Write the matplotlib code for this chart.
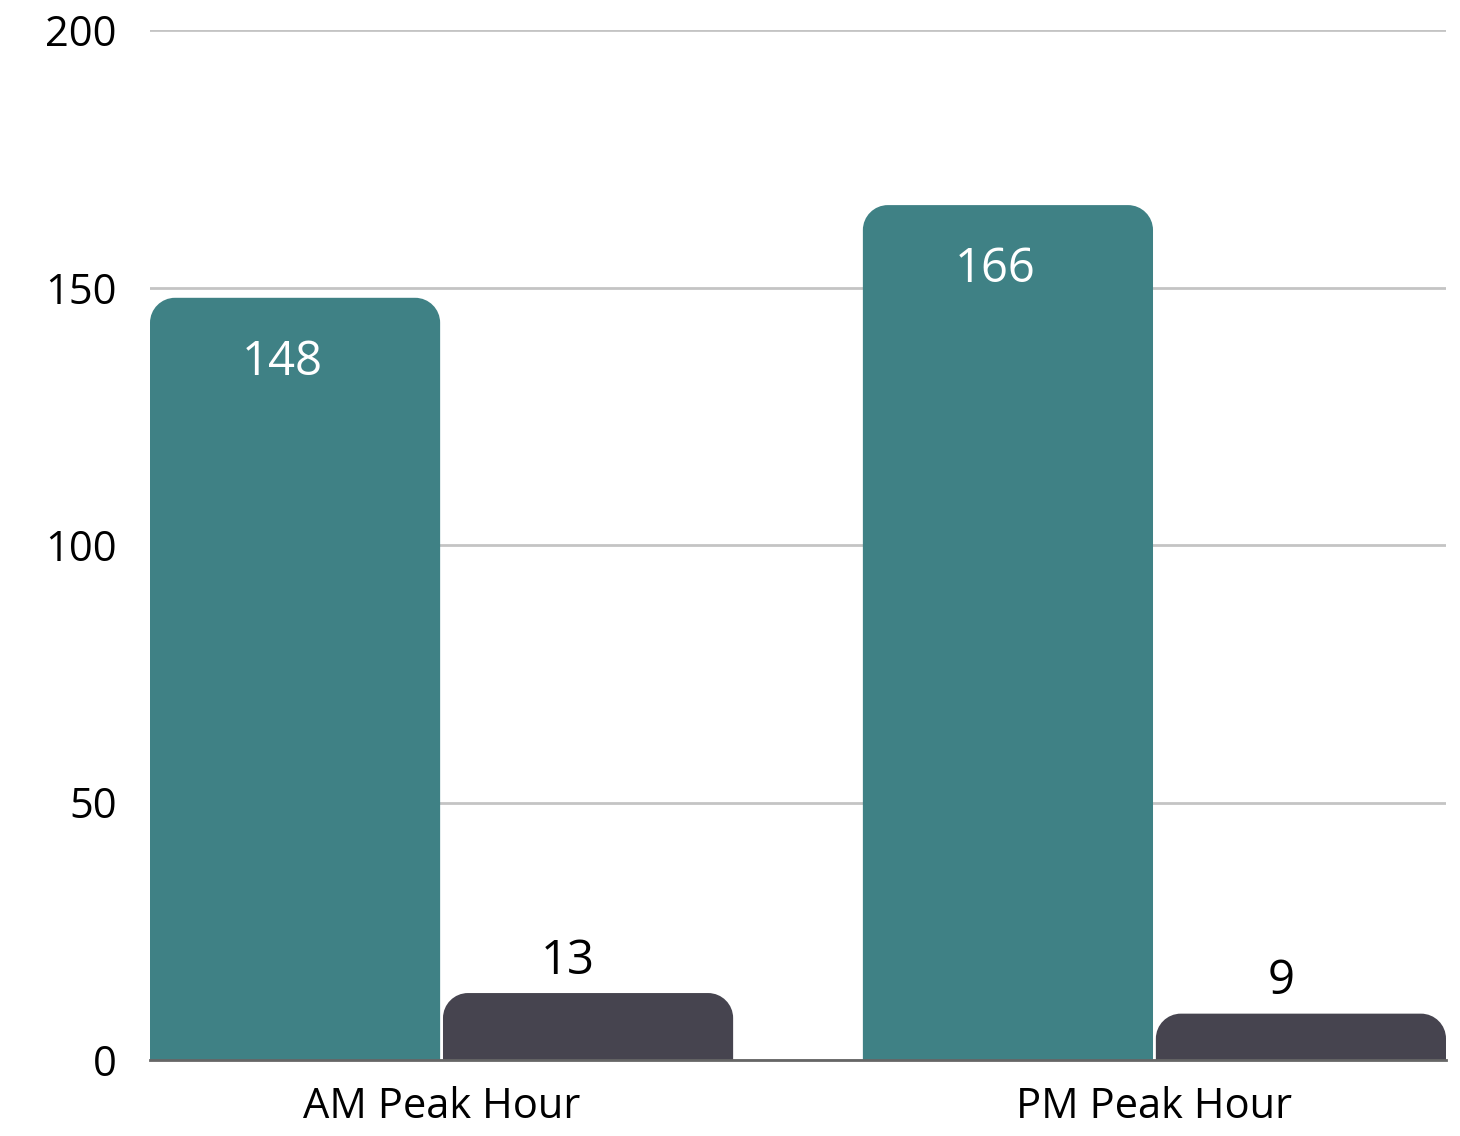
import numpy as np
import matplotlib.pyplot as plt
from matplotlib.path import Path
from matplotlib.patches import PathPatch

plt.rcParams['font.family'] = ['Open Sans', 'DejaVu Sans']

categories = ['AM Peak Hour', 'PM Peak Hour']
series_a = [148, 166]
series_b = [13, 9]
yticks = [0, 50, 100, 150, 200]

teal = '#3f8185'
dark = '#46444f'

fig = plt.figure(figsize=(14.6, 11.36), dpi=100)
ax = fig.add_axes([150/1460, 76/1136, 1296/1460, 1030/1136])

x = np.arange(len(categories))
w = 0.407
gap = 0.004
ax.set_xlim(-0.409, 1.409)
ax.set_ylim(0, 200)


def rounded_bar(ax, x0, width, height, color, r_px=25):
    # top corners rounded with a fixed pixel radius
    bb = ax.get_window_extent()
    sx = (ax.get_xlim()[1] - ax.get_xlim()[0]) / bb.width
    sy = (ax.get_ylim()[1] - ax.get_ylim()[0]) / bb.height
    rx, ry = r_px * sx, min(r_px * sy, height)
    k = 0.5523
    x1 = x0 + width
    verts = [(x0, 0), (x0, height - ry),
             (x0, height - ry + k * ry), (x0 + rx - k * rx, height), (x0 + rx, height),
             (x1 - rx, height),
             (x1 - rx + k * rx, height), (x1, height - ry + k * ry), (x1, height - ry),
             (x1, 0), (x0, 0)]
    codes = [Path.MOVETO, Path.LINETO,
             Path.CURVE4, Path.CURVE4, Path.CURVE4,
             Path.LINETO,
             Path.CURVE4, Path.CURVE4, Path.CURVE4,
             Path.LINETO, Path.CLOSEPOLY]
    ax.add_patch(PathPatch(Path(verts, codes), facecolor=color, edgecolor='none', zorder=3))


for i in range(len(categories)):
    rounded_bar(ax, x[i] - w - gap / 2, w, series_a[i], teal)
    rounded_bar(ax, x[i] + gap / 2, w, series_b[i], dark)
    ax.annotate(str(series_a[i]), (x[i] - w / 2 - gap / 2, series_a[i]),
                xytext=(-13, -64), textcoords='offset pixels',
                ha='center', va='center', color='white', fontsize=34, zorder=4)
    ax.annotate(str(series_b[i]), (x[i] + w / 2 + gap / 2, series_b[i]),
                xytext=(-20, 32), textcoords='offset pixels',
                ha='center', va='center', color='black', fontsize=34, zorder=4)

ax.set_yticks(yticks)
ax.set_xticks(x)
ax.set_xticklabels(categories)
ax.tick_params(axis='y', length=0, pad=24, labelsize=30)
ax.tick_params(axis='x', length=0, pad=19, labelsize=30)
ax.yaxis.grid(True, color='#c4c4c4', linewidth=2)
ax.set_axisbelow(True)
for s in ['top', 'right', 'left']:
    ax.spines[s].set_visible(False)
ax.spines['bottom'].set_color('#666666')
ax.spines['bottom'].set_linewidth(2)
ax.spines['bottom'].set_zorder(5)

fig.savefig('out.png', dpi=100)
